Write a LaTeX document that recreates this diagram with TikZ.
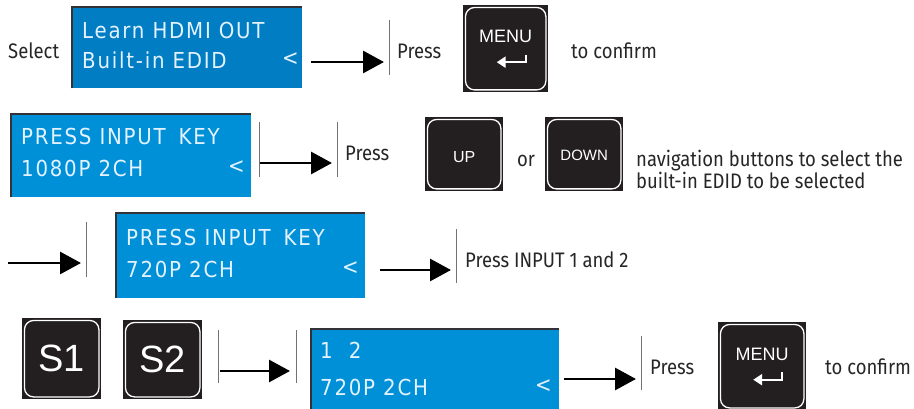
\documentclass[tikz,border=0pt]{standalone}
\usepackage{fontspec}
\setmainfont[FakeStretch=0.88]{Fira Sans}
\newfontfamily\lcdfont[LetterSpace=8]{DejaVu Sans Condensed}
\newfontfamily\btnfont{Liberation Sans}
\usetikzlibrary{arrows.meta}
\definecolor{lcdblueA}{RGB}{0,125,195}
\definecolor{lcdblueB}{RGB}{0,144,216}
\definecolor{keydark}{RGB}{35,31,32}
\definecolor{lcdtext}{RGB}{228,242,255}
\definecolor{lcdedge}{RGB}{50,50,55}
\tikzset{
  lbl/.style={font=\fontsize{21}{24}\selectfont, inner sep=0pt, anchor=base west, text=black!85},
  lcdtxt/.style={font=\lcdfont\fontsize{22}{24}\selectfont, text=lcdtext, inner sep=0pt, anchor=base west},
  lcdbox/.style={fill=#1, inner sep=0pt, anchor=north west},
  lcdrim/.style={draw=lcdedge, line width=1.8pt},
  keybox/.style={fill=keydark, inner sep=0pt, anchor=north west},
  keyrim/.style={draw=white, line width=1.3pt, rounded corners=9pt},
  keytxt/.style={font=\btnfont\fontsize{#1}{#1}\selectfont, text=white, inner sep=0pt},
  flowarr/.style={-{Triangle[length=21pt,width=22pt]}, line width=2.9pt},
  sepline/.style={draw=black!55, line width=0.9pt},
  retarr/.style={draw=white, line width=2.4pt, -{Triangle[length=9pt,width=11pt]}}
}
\newcommand\keyrimdraw[1]{\draw[keyrim] ([shift={(2.5pt,-2.5pt)}]#1.north west) rectangle ([shift={(-2.5pt,2.5pt)}]#1.south east);}
\newcommand\lcdrimdraw[1]{\draw[lcdrim] (#1.south west) |- (#1.north east);}
\newcommand\retdraw[1]{\draw[retarr] ([shift={(20pt,-6pt)}]#1.center) |- ([shift={(-9pt,-13.5pt)}]#1.center);}
\begin{document}
\begin{tikzpicture}[x=1pt,y=-1pt]
\useasboundingbox (0,0) rectangle (914,409);

% ---------- Row 1 ----------
\node[lbl] (sel) at (8,59) {Select};
\node[lcdbox=lcdblueA, minimum width=230pt, minimum height=81pt] (lcd1) at (72,7) {};
\lcdrimdraw{lcd1}
\node[lcdtxt] (l1a) at (82,39) {Learn HDMI OUT};
\node[lcdtxt] (l1b) at (82,69) {Built-in EDID};
\node[lcdtxt] (l1c) at (282,66) {<};
\coordinate (a1s) at (311,62);
\coordinate (a1e) at (384,62);
\draw[flowarr] (a1s) -- (a1e);
\coordinate (s1t) at (389,20); \coordinate (s1b) at (389,75);
\draw[sepline] (s1t) -- (s1b);
\node[lbl] (p1) at (397,59) {Press};
\node[keybox, minimum width=85pt, minimum height=87pt] (menu1) at (463,5) {};
\keyrimdraw{menu1}
\node[keytxt=18] (menu1t) at ([yshift=12pt]menu1.center) {MENU};
\retdraw{menu1}
\node[lbl] (c1) at (571,59) {to confirm};

% ---------- Row 2 ----------
\node[lcdbox=lcdblueB, minimum width=240pt, minimum height=83pt] (lcd2) at (11,114) {};
\lcdrimdraw{lcd2}
\node[lcdtxt] (l2a) at (21,145) {PRESS INPUT\hspace{13pt}KEY};
\node[lcdtxt] (l2b) at (21,177) {1080P 2CH};
\node[lcdtxt] (l2c) at (228,174) {<};
\coordinate (s2at) at (259,122); \coordinate (s2ab) at (259,177);
\draw[sepline] (s2at) -- (s2ab);
\coordinate (a2s) at (260,163);
\coordinate (a2e) at (332,163);
\draw[flowarr] (a2s) -- (a2e);
\coordinate (s2bt) at (337,122); \coordinate (s2bb) at (337,177);
\draw[sepline] (s2bt) -- (s2bb);
\node[lbl] (p2) at (345,161) {Press};
\node[keybox, minimum width=78pt, minimum height=74pt] (up) at (425,117) {};
\keyrimdraw{up}
\node[keytxt=16] (upt) at ([yshift=-3pt]up.center) {UP};
\node[lbl] (or) at (517,167) {or};
\node[keybox, minimum width=78pt, minimum height=74pt] (down) at (545,117) {};
\keyrimdraw{down}
\node[keytxt=15] (downt) at ([yshift=-1pt]down.center) {DOWN};
\node[lbl] (nav1) at (636,167) {navigation buttons to select the};
\node[lbl] (nav2) at (636,189) {built-in EDID to be selected};

% ---------- Row 3 ----------
\coordinate (a3s) at (8,263);
\coordinate (a3e) at (81,263);
\draw[flowarr] (a3s) -- (a3e);
\coordinate (s3at) at (86,222); \coordinate (s3ab) at (86,277);
\draw[sepline] (s3at) -- (s3ab);
\node[lcdbox=lcdblueB, minimum width=249pt, minimum height=85pt] (lcd3) at (116,213) {};
\lcdrimdraw{lcd3}
\node[lcdtxt] (l3a) at (126,245) {PRESS INPUT\hspace{13pt}KEY};
\node[lcdtxt] (l3b) at (126,277) {720P 2CH};
\node[lcdtxt] (l3c) at (342,274) {<};
\coordinate (a4s) at (380,270);
\coordinate (a4e) at (451,270);
\draw[flowarr] (a4s) -- (a4e);
\coordinate (s3bt) at (456,229); \coordinate (s3bb) at (456,283);
\draw[sepline] (s3bt) -- (s3bb);
\node[lbl] (p3) at (465,267) {Press INPUT 1 and 2};

% ---------- Row 4 ----------
\node[keybox, minimum width=79pt, minimum height=81pt] (sA) at (22,318) {};
\keyrimdraw{sA}
\node[keytxt=38] (sAt) at (sA.center) {S1};
\node[keybox, minimum width=79pt, minimum height=79pt] (sB) at (123,320) {};
\keyrimdraw{sB}
\node[keytxt=38] (sBt) at (sB.center) {S2};
\coordinate (s4at) at (218,330); \coordinate (s4ab) at (218,383);
\draw[sepline] (s4at) -- (s4ab);
\coordinate (a5s) at (220,371);
\coordinate (a5e) at (290,371);
\draw[flowarr] (a5s) -- (a5e);
\coordinate (s4bt) at (296,330); \coordinate (s4bb) at (296,383);
\draw[sepline] (s4bt) -- (s4bb);
\node[lcdbox=lcdblueB, minimum width=248pt, minimum height=81pt] (lcd4) at (311,329) {};
\lcdrimdraw{lcd4}
\node[lcdtxt] (l4a) at (320,358) {1\hspace{16pt}2};
\node[lcdtxt] (l4b) at (320,395) {720P 2CH};
\node[lcdtxt] (l4c) at (535,392) {<};
\coordinate (a6s) at (564,379);
\coordinate (a6e) at (636,379);
\draw[flowarr] (a6s) -- (a6e);
\coordinate (s4ct) at (641,336); \coordinate (s4cb) at (641,390);
\draw[sepline] (s4ct) -- (s4cb);
\node[lbl] (p4) at (650,374) {Press};
\node[keybox, minimum width=88pt, minimum height=88pt] (menu2) at (718,322) {};
\keyrimdraw{menu2}
\node[keytxt=18] (menu2t) at ([yshift=12pt]menu2.center) {MENU};
\retdraw{menu2}
\node[lbl] (c2) at (825,374) {to confirm};
\end{tikzpicture}
\end{document}
